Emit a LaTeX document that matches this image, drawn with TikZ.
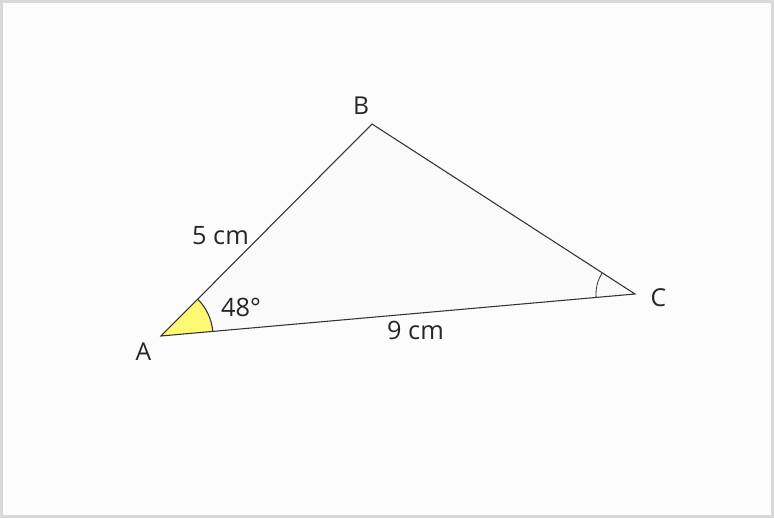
\documentclass[tikz,border=0pt]{standalone}
\usepackage{fontspec}
\setmainfont{Open Sans}
\begin{document}
\begin{tikzpicture}[x=0.75pt,y=0.75pt,
  edge/.style={draw=black!80,line width=0.8pt},
  vlabel/.style={font=\fontsize{18.5}{20}\selectfont,text=black!85,inner sep=0pt},
  mlabel/.style={font=\fontsize{19}{21}\selectfont,text=black!85,inner sep=0pt}]
\useasboundingbox (0,0) rectangle (774,518);
\fill[black!15] (0,0) rectangle (774,518);
\fill[white!99!black] (3,3) rectangle (771,515);
\coordinate (A) at (161,182);
\coordinate (B) at (372,394);
\coordinate (C) at (635,224);
\fill[black!2] (A) -- (B) -- (C) -- cycle;
% angle A
\path (A) ++(5.06:52) coordinate (aC);
\fill[yellow!55] (A) -- (aC) arc[start angle=5.06,end angle=45.1,radius=52] -- cycle;
\draw[edge] (aC) arc[start angle=5.06,end angle=45.1,radius=52];
% angle C
\path (C) ++(185.06:39) coordinate (cA);
\draw[edge,line width=0.6pt] (cA) arc[start angle=185.06,end angle=147.1,radius=39];
\draw[edge,line join=miter] (A) -- (B) -- (C) -- cycle;
\node[vlabel] (la) at (143.5,166) {A};
\node[vlabel] (lb) at (361,412.5) {B};
\node[vlabel] (lc) at (658.5,220) {C};
\node[mlabel] (ang) at (241,210.5) {48°};
\node[mlabel] (ab) at (220.5,282) {5 cm};
\node[mlabel] (ac) at (415.5,188) {9 cm};
\end{tikzpicture}
\end{document}
